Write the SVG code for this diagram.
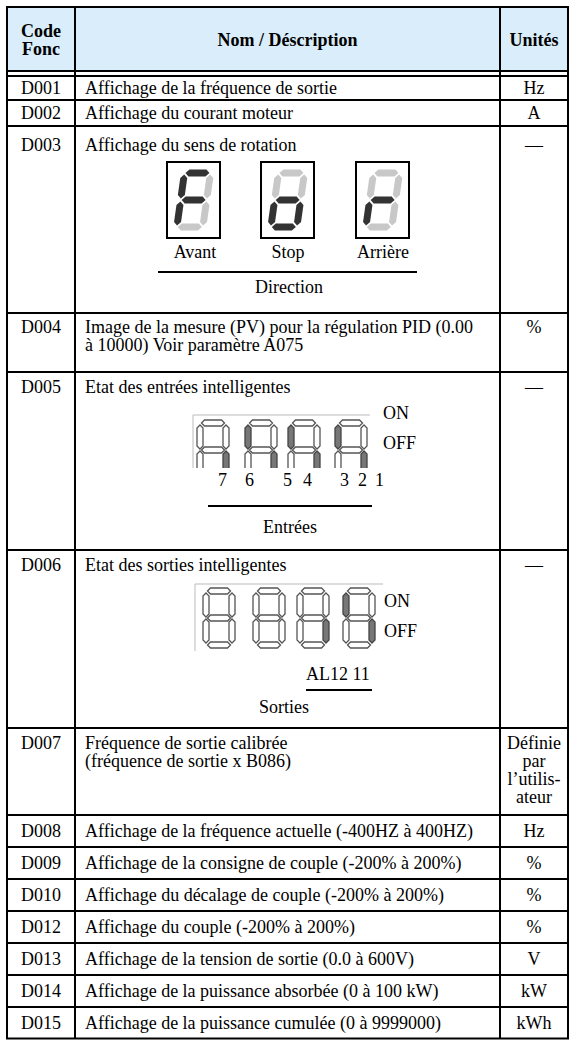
<svg xmlns="http://www.w3.org/2000/svg" width="571" height="1043" viewBox="0 0 571 1043">
<style>
text{font-family:"Liberation Serif","Times New Roman",serif;font-size:18px;fill:#000}
.b{font-weight:bold}
.m{text-anchor:middle}
.ln{stroke:#000;stroke-width:2;fill:none}
.box{stroke:#000;stroke-width:2;fill:none}
.on{fill:#333}
.off{fill:#c8c8c8}
.so{fill:#fff;stroke:#555;stroke-width:1.3}
.sd{fill:#777;stroke:#444;stroke-width:1.3}
.fr{stroke:#bbb;stroke-width:1;fill:none}
</style>
<defs>
<polygon id="hd" points="-12,0 -8.5,-3.5 8.5,-3.5 12,0 8.5,3.5 -8.5,3.5"/>
<polygon id="vd" points="0,-12 3.5,-8.5 3.5,8.5 0,12 -3.5,8.5 -3.5,-8.5"/>
<polygon id="hs" points="-11.5,0 -8.5,-3 8.5,-3 11.5,0 8.5,3 -8.5,3"/>
<polygon id="vs" points="0,-12 3,-9 3,9 0,12 -3,9 -3,-9"/>
<clipPath id="cut5"><rect x="180" y="400" width="200" height="68"/></clipPath>
</defs>

<rect x="7" y="7" width="561" height="64" fill="#d9edfa"/>

<g id="connectors">
<rect class="ln" x="7" y="7" width="561" height="1031.5"/>
<line class="ln" x1="75" y1="7" x2="75" y2="1038.5"/>
<line class="ln" x1="500" y1="7" x2="500" y2="1038.5"/>
<line class="ln" x1="7" y1="71" x2="568" y2="71"/>
<line class="ln" x1="7" y1="76" x2="568" y2="76"/>
<line class="ln" x1="7" y1="100" x2="568" y2="100"/>
<line class="ln" x1="7" y1="126" x2="568" y2="126"/>
<line class="ln" x1="7" y1="313" x2="568" y2="313"/>
<line class="ln" x1="7" y1="372" x2="568" y2="372"/>
<line class="ln" x1="7" y1="550" x2="568" y2="550"/>
<line class="ln" x1="7" y1="728" x2="568" y2="728"/>
<line class="ln" x1="7" y1="815" x2="568" y2="815"/>
<line class="ln" x1="7" y1="847" x2="568" y2="847"/>
<line class="ln" x1="7" y1="879" x2="568" y2="879"/>
<line class="ln" x1="7" y1="911" x2="568" y2="911"/>
<line class="ln" x1="7" y1="943" x2="568" y2="943"/>
<line class="ln" x1="7" y1="975" x2="568" y2="975"/>
<line class="ln" x1="7" y1="1007" x2="568" y2="1007"/>
</g>

<g id="header">
<text class="b m" x="41" y="37">Code</text>
<text class="b m" x="41" y="55">Fonc</text>
<text class="b m" x="287.5" y="46">Nom / Déscription</text>
<text class="b m" x="534" y="46">Unités</text>
</g>

<g id="D001">
<text class="m" x="41" y="94">D001</text>
<text x="85" y="94">Affichage de la fréquence de sortie</text>
<text class="m" x="534" y="94">Hz</text>
</g>

<g id="D002">
<text class="m" x="41" y="119">D002</text>
<text x="85" y="119">Affichage du courant moteur</text>
<text class="m" x="534" y="119">A</text>
</g>

<g id="D003">
<text class="m" x="41" y="151">D003</text>
<text x="85" y="151">Affichage du sens de rotation</text>
<text class="m" x="534" y="151">—</text>
<rect class="box" x="167" y="162" width="53" height="76"/>
<rect class="box" x="261" y="162" width="53" height="76"/>
<rect class="box" x="356" y="162" width="53" height="76"/>
<g transform="translate(181,169) skewX(-8)">
<use href="#hd" x="17" y="4" class="on"/>
<use href="#vd" x="4" y="17.5" class="on"/>
<use href="#vd" x="30" y="17.5" class="off"/>
<use href="#hd" x="17" y="31" class="on"/>
<use href="#vd" x="4" y="44.5" class="on"/>
<use href="#vd" x="30" y="44.5" class="off"/>
<use href="#hd" x="17" y="58" class="off"/>
</g>
<g transform="translate(275,169) skewX(-8)">
<use href="#hd" x="17" y="4" class="off"/>
<use href="#vd" x="4" y="17.5" class="off"/>
<use href="#vd" x="30" y="17.5" class="off"/>
<use href="#hd" x="17" y="31" class="on"/>
<use href="#vd" x="4" y="44.5" class="on"/>
<use href="#vd" x="30" y="44.5" class="on"/>
<use href="#hd" x="17" y="58" class="on"/>
</g>
<g transform="translate(370,169) skewX(-8)">
<use href="#hd" x="17" y="4" class="off"/>
<use href="#vd" x="4" y="17.5" class="off"/>
<use href="#vd" x="30" y="17.5" class="off"/>
<use href="#hd" x="17" y="31" class="on"/>
<use href="#vd" x="4" y="44.5" class="on"/>
<use href="#vd" x="30" y="44.5" class="off"/>
<use href="#hd" x="17" y="58" class="off"/>
</g>
<text class="m" x="195" y="258">Avant</text>
<text class="m" x="288" y="258">Stop</text>
<text class="m" x="383" y="258">Arrière</text>
<line class="ln" x1="158" y1="272" x2="417" y2="272"/>
<text class="m" x="289" y="293">Direction</text>
</g>

<g id="D004">
<text class="m" x="41" y="333">D004</text>
<text x="85" y="333">Image de la mesure (PV) pour la régulation PID (0.00</text>
<text x="85" y="351">à 10000) Voir paramètre A075</text>
<text class="m" x="534" y="333">%</text>
</g>

<g id="D005">
<text class="m" x="41" y="393">D005</text>
<text x="85" y="393">Etat des entrées intelligentes</text>
<text class="m" x="534" y="393">—</text>
<polyline class="fr" points="193,468 193,415 370,415"/>
<g clip-path="url(#cut5)">
<g transform="translate(197,420)">
<use href="#hs" x="16" y="3" class="so"/><use href="#vs" x="3" y="17" class="so"/><use href="#vs" x="29" y="17" class="so"/>
<use href="#hs" x="16" y="30" class="so"/><use href="#vs" x="3" y="43" class="so"/><use href="#vs" x="29" y="43" class="sd"/>
</g>
<g transform="translate(245,420)">
<use href="#hs" x="16" y="3" class="so"/><use href="#vs" x="3" y="17" class="sd"/><use href="#vs" x="29" y="17" class="so"/>
<use href="#hs" x="16" y="30" class="so"/><use href="#vs" x="3" y="43" class="so"/><use href="#vs" x="29" y="43" class="sd"/>
</g>
<g transform="translate(288,420)">
<use href="#hs" x="16" y="3" class="so"/><use href="#vs" x="3" y="17" class="sd"/><use href="#vs" x="29" y="17" class="so"/>
<use href="#hs" x="16" y="30" class="so"/><use href="#vs" x="3" y="43" class="so"/><use href="#vs" x="29" y="43" class="sd"/>
</g>
<g transform="translate(335,420)">
<use href="#hs" x="16" y="3" class="so"/><use href="#vs" x="3" y="17" class="sd"/><use href="#vs" x="29" y="17" class="so"/>
<use href="#hs" x="16" y="30" class="so"/><use href="#vs" x="3" y="43" class="so"/><use href="#vs" x="29" y="43" class="sd"/>
</g>
</g>
<text x="383" y="419">ON</text>
<text x="383" y="449">OFF</text>
<text y="486"><tspan x="218">7</tspan><tspan x="245">6</tspan><tspan x="283">5</tspan><tspan x="303">4</tspan><tspan x="340">3</tspan><tspan x="358">2</tspan><tspan x="375">1</tspan></text>
<line class="ln" x1="208" y1="506" x2="372" y2="506"/>
<text class="m" x="290" y="533">Entrées</text>
</g>

<g id="D006">
<text class="m" x="41" y="571">D006</text>
<text x="85" y="571">Etat des sorties intelligentes</text>
<text class="m" x="534" y="571">—</text>
<polyline class="fr" points="195,651 195,584 383,584"/>
<g transform="translate(203,588)">
<use href="#hs" x="16" y="3" class="so"/><use href="#vs" x="3" y="17" class="so"/><use href="#vs" x="29" y="17" class="so"/>
<use href="#hs" x="16" y="30" class="so"/><use href="#vs" x="3" y="43" class="so"/><use href="#vs" x="29" y="43" class="so"/><use href="#hs" x="16" y="57" class="so"/>
</g>
<g transform="translate(253,588)">
<use href="#hs" x="16" y="3" class="so"/><use href="#vs" x="3" y="17" class="so"/><use href="#vs" x="29" y="17" class="so"/>
<use href="#hs" x="16" y="30" class="so"/><use href="#vs" x="3" y="43" class="so"/><use href="#vs" x="29" y="43" class="so"/><use href="#hs" x="16" y="57" class="so"/>
</g>
<g transform="translate(297,588)">
<use href="#hs" x="16" y="3" class="so"/><use href="#vs" x="3" y="17" class="so"/><use href="#vs" x="29" y="17" class="so"/>
<use href="#hs" x="16" y="30" class="so"/><use href="#vs" x="3" y="43" class="so"/><use href="#vs" x="29" y="43" class="sd"/><use href="#hs" x="16" y="57" class="so"/>
</g>
<g transform="translate(343,588)">
<use href="#hs" x="16" y="3" class="so"/><use href="#vs" x="3" y="17" class="sd"/><use href="#vs" x="29" y="17" class="so"/>
<use href="#hs" x="16" y="30" class="so"/><use href="#vs" x="3" y="43" class="so"/><use href="#vs" x="29" y="43" class="sd"/><use href="#hs" x="16" y="57" class="so"/>
</g>
<text x="384" y="607">ON</text>
<text x="384" y="637">OFF</text>
<text x="306" y="680">AL12 11</text>
<line class="ln" x1="306" y1="690" x2="372" y2="690"/>
<text class="m" x="284" y="713">Sorties</text>
</g>

<g id="D007">
<text class="m" x="41" y="749">D007</text>
<text x="85" y="749">Fréquence de sortie calibrée</text>
<text x="85" y="767">(fréquence de sortie x B086)</text>
<text class="m" x="534" y="749">Définie</text>
<text class="m" x="534" y="767">par</text>
<text class="m" x="534" y="785">l’utilis-</text>
<text class="m" x="534" y="803">ateur</text>
</g>

<g id="D008">
<text class="m" x="41" y="837">D008</text>
<text x="85" y="837">Affichage de la fréquence actuelle  (-400HZ à 400HZ)</text>
<text class="m" x="534" y="837">Hz</text>
</g>
<g id="D009">
<text class="m" x="41" y="869">D009</text>
<text x="85" y="869">Affichage de la consigne de couple (-200% à 200%)</text>
<text class="m" x="534" y="869">%</text>
</g>
<g id="D010">
<text class="m" x="41" y="901">D010</text>
<text x="85" y="901">Affichage du décalage de couple (-200% à 200%)</text>
<text class="m" x="534" y="901">%</text>
</g>
<g id="D012">
<text class="m" x="41" y="933">D012</text>
<text x="85" y="933">Affichage du couple (-200% à 200%)</text>
<text class="m" x="534" y="933">%</text>
</g>
<g id="D013">
<text class="m" x="41" y="965">D013</text>
<text x="85" y="965">Affichage de la tension de sortie (0.0 à 600V)</text>
<text class="m" x="534" y="965">V</text>
</g>
<g id="D014">
<text class="m" x="41" y="997">D014</text>
<text x="85" y="997">Affichage de la puissance absorbée (0 à 100 kW)</text>
<text class="m" x="534" y="997">kW</text>
</g>
<g id="D015">
<text class="m" x="41" y="1029">D015</text>
<text x="85" y="1029">Affichage de la puissance cumulée (0 à 9999000)</text>
<text class="m" x="534" y="1029">kWh</text>
</g>
</svg>
